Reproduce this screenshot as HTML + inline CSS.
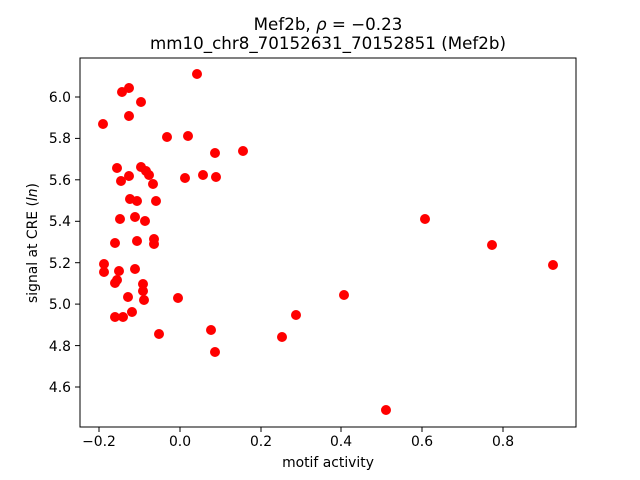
<!DOCTYPE html>
<html><head><meta charset="utf-8"><style>body{margin:0;background:#fff}svg{display:block}text{font-family:"DejaVu Sans","Liberation Sans",sans-serif;fill:#000}</style></head><body>
<svg width="640" height="480" viewBox="0 0 640 480" xmlns="http://www.w3.org/2000/svg">
<rect width="640" height="480" fill="#fff"/>
<g fill="#ff0000">
<circle cx="197" cy="74" r="5"/><circle cx="122" cy="92" r="5"/><circle cx="129" cy="88" r="5"/><circle cx="141" cy="102" r="5"/><circle cx="129" cy="116" r="5"/><circle cx="103" cy="124" r="5"/><circle cx="167" cy="137" r="5"/><circle cx="188" cy="136" r="5"/><circle cx="215" cy="153" r="5"/><circle cx="243" cy="151" r="5"/><circle cx="117" cy="168" r="5"/><circle cx="141" cy="167" r="5"/><circle cx="146" cy="171" r="5"/><circle cx="149" cy="175" r="5"/><circle cx="129" cy="176" r="5"/><circle cx="121" cy="181" r="5"/><circle cx="153" cy="184" r="5"/><circle cx="185" cy="178" r="5"/><circle cx="203" cy="175" r="5"/><circle cx="216" cy="177" r="5"/><circle cx="130" cy="199" r="5"/><circle cx="137" cy="201" r="5"/><circle cx="156" cy="201" r="5"/><circle cx="120" cy="219" r="5"/><circle cx="135" cy="217" r="5"/><circle cx="145" cy="221" r="5"/><circle cx="115" cy="243" r="5"/><circle cx="137" cy="241" r="5"/><circle cx="154" cy="239" r="5"/><circle cx="154" cy="244" r="5"/><circle cx="104" cy="264" r="5"/><circle cx="104" cy="272" r="5"/><circle cx="119" cy="271" r="5"/><circle cx="135" cy="269" r="5"/><circle cx="117" cy="280" r="5"/><circle cx="115" cy="283" r="5"/><circle cx="143" cy="284" r="5"/><circle cx="143" cy="291" r="5"/><circle cx="128" cy="297" r="5"/><circle cx="144" cy="300" r="5"/><circle cx="178" cy="298" r="5"/><circle cx="115" cy="317" r="5"/><circle cx="123" cy="317" r="5"/><circle cx="132" cy="312" r="5"/><circle cx="159" cy="334" r="5"/><circle cx="211" cy="330" r="5"/><circle cx="215" cy="352" r="5"/><circle cx="296" cy="315" r="5"/><circle cx="282" cy="337" r="5"/><circle cx="344" cy="295" r="5"/><circle cx="425" cy="219" r="5"/><circle cx="492" cy="245" r="5"/><circle cx="553" cy="265" r="5"/><circle cx="386" cy="410" r="5"/>
</g>
<rect x="80" y="58" width="496" height="369" fill="none" stroke="#000" stroke-width="1"/>
<g stroke="#000" stroke-width="1">
<line x1="99" y1="427" x2="99" y2="432"/><line x1="180" y1="427" x2="180" y2="432"/><line x1="261" y1="427" x2="261" y2="432"/><line x1="341" y1="427" x2="341" y2="432"/><line x1="422" y1="427" x2="422" y2="432"/><line x1="503" y1="427" x2="503" y2="432"/>
<line x1="75" y1="97" x2="80" y2="97"/><line x1="75" y1="138.4" x2="80" y2="138.4"/><line x1="75" y1="179.8" x2="80" y2="179.8"/><line x1="75" y1="221.3" x2="80" y2="221.3"/><line x1="75" y1="262.7" x2="80" y2="262.7"/><line x1="75" y1="304.1" x2="80" y2="304.1"/><line x1="75" y1="345.6" x2="80" y2="345.6"/><line x1="75" y1="387" x2="80" y2="387"/>
</g>
<g font-size="13.9" text-anchor="middle">
<text x="99" y="446">−0.2</text><text x="180" y="446">0.0</text><text x="261" y="446">0.2</text><text x="341" y="446">0.4</text><text x="422" y="446">0.6</text><text x="503" y="446">0.8</text>
</g>
<g font-size="13.9" text-anchor="end">
<text x="71" y="102">6.0</text><text x="71" y="143">5.8</text><text x="71" y="185">5.6</text><text x="71" y="226">5.4</text><text x="71" y="268">5.2</text><text x="71" y="309">5.0</text><text x="71" y="351">4.8</text><text x="71" y="392">4.6</text>
</g>
<text x="328" y="467" font-size="13.9" text-anchor="middle">motif activity</text>
<text transform="translate(37,243) rotate(-90)" font-size="13.9" text-anchor="middle">signal at CRE (<tspan font-style="italic">ln</tspan>)</text>
<text x="328" y="30" font-size="16.7" text-anchor="middle">Mef2b, <tspan font-style="italic">ρ</tspan> = −0.23</text>
<text x="328" y="49" font-size="16.7" text-anchor="middle">mm10_chr8_70152631_70152851 (Mef2b)</text>
</svg>
</body></html>
